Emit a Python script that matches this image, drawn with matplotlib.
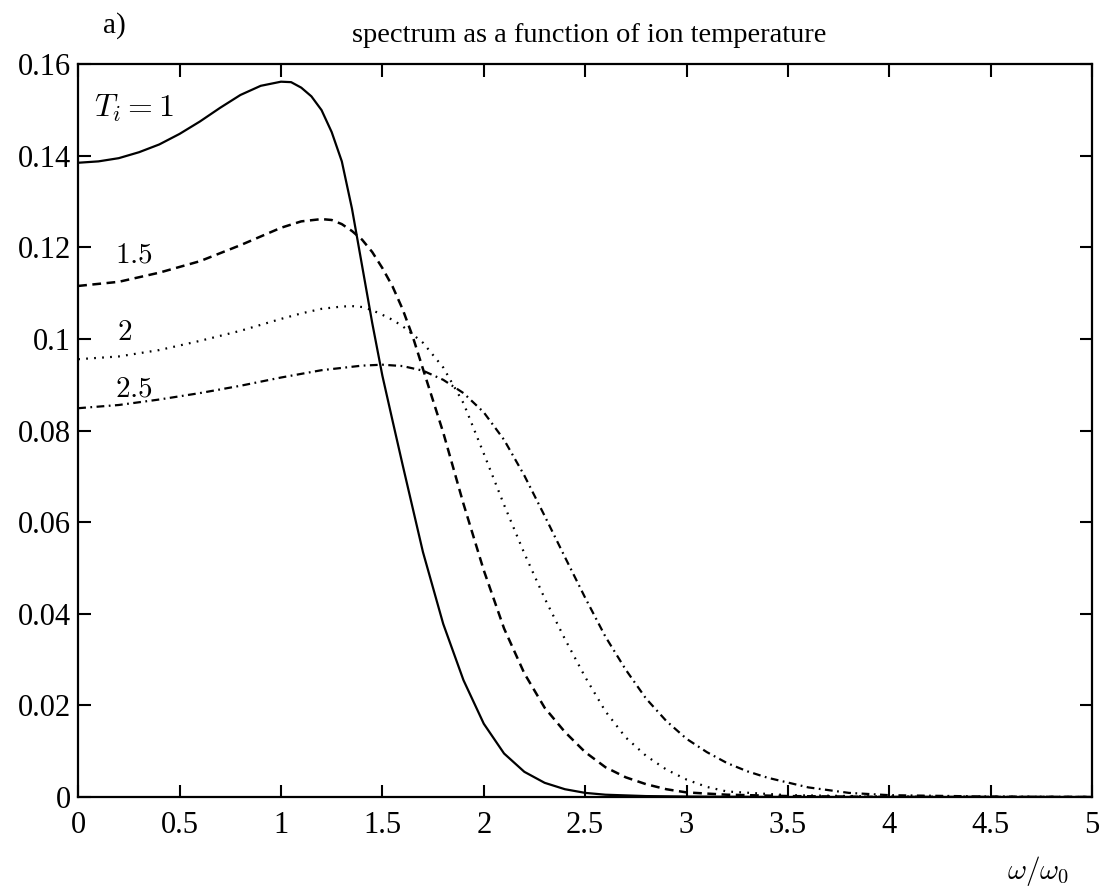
import numpy as np
import matplotlib
matplotlib.use("Agg")
import matplotlib.pyplot as plt
from matplotlib.ticker import FuncFormatter, MultipleLocator

plt.rcParams["font.family"] = ["Liberation Serif", "DejaVu Serif"]
plt.rcParams["mathtext.fontset"] = "cm"

# values
x_t1 = [0, 0.1, 0.2, 0.3, 0.4, 0.5, 0.6, 0.7, 0.8, 0.9, 1.0, 1.05, 1.1, 1.15,
        1.2, 1.25, 1.3, 1.35, 1.4, 1.45, 1.5, 1.55, 1.6, 1.7, 1.8, 1.9, 2.0,
        2.1, 2.2, 2.3, 2.4, 2.5, 2.6, 2.8, 3.0, 3.5, 4.0, 5.0]
y_t1 = [0.1385, 0.1388, 0.1395, 0.1408, 0.1425, 0.1448, 0.1475, 0.1505,
        0.1533, 0.1553, 0.1562, 0.1561, 0.1549, 0.1530, 0.1500, 0.1452,
        0.1388, 0.1285, 0.1160, 0.1035, 0.0920, 0.0822, 0.0725, 0.0535,
        0.0378, 0.0255, 0.0160, 0.0095, 0.0055, 0.0031, 0.0017, 0.0009,
        0.0005, 0.0002, 0.0001, 0.0, 0.0, 0.0]

x_t15 = [0, 0.2, 0.4, 0.6, 0.8, 0.9, 1.0, 1.1, 1.2, 1.25, 1.3, 1.35, 1.4,
         1.45, 1.5, 1.55, 1.6, 1.65, 1.7, 1.8, 1.9, 2.0, 2.1, 2.2, 2.3, 2.4,
         2.5, 2.6, 2.7, 2.8, 2.9, 3.0, 3.2, 3.5, 4.0, 5.0]
y_t15 = [0.1116, 0.1125, 0.1145, 0.1170, 0.1205, 0.1224, 0.1243, 0.1257,
         0.1262, 0.1260, 0.1251, 0.1236, 0.1217, 0.1190, 0.1155, 0.1115,
         0.1065, 0.1005, 0.0935, 0.0796, 0.0640, 0.0495, 0.0368, 0.0270,
         0.0195, 0.0142, 0.0098, 0.0065, 0.0043, 0.0028, 0.0017, 0.0010,
         0.0005, 0.0002, 0.0, 0.0]

x_t2 = [0, 0.2, 0.4, 0.6, 0.8, 1.0, 1.1, 1.2, 1.3, 1.35, 1.4, 1.45, 1.5, 1.55,
        1.6, 1.7, 1.8, 1.9, 2.0, 2.1, 2.2, 2.3, 2.4, 2.5, 2.6, 2.7, 2.8, 2.9,
        3.0, 3.1, 3.2, 3.5, 4.0, 5.0]
y_t2 = [0.0956, 0.0962, 0.0976, 0.0996, 0.1018, 0.1044, 0.1056, 0.1066,
        0.1071, 0.1072, 0.1070, 0.1063, 0.1053, 0.1042, 0.1028, 0.0992,
        0.0938, 0.0860, 0.0750, 0.0638, 0.0532, 0.0434, 0.0345, 0.0262,
        0.0187, 0.0130, 0.0090, 0.0060, 0.0038, 0.0022, 0.0012, 0.0004,
        0.0001, 0.0]

x_t25 = [0, 0.2, 0.4, 0.6, 0.8, 1.0, 1.2, 1.4, 1.5, 1.6, 1.7, 1.8, 1.9, 2.0,
         2.1, 2.2, 2.3, 2.4, 2.5, 2.6, 2.7, 2.8, 2.9, 3.0, 3.1, 3.2, 3.3, 3.4,
         3.6, 3.8, 4.0, 4.5, 5.0]
y_t25 = [0.0849, 0.0856, 0.0868, 0.0882, 0.0898, 0.0916, 0.0932, 0.0942,
         0.0944, 0.0941, 0.0931, 0.0911, 0.0882, 0.0840, 0.0780, 0.0702,
         0.0614, 0.0524, 0.0435, 0.0350, 0.0278, 0.0215, 0.0166, 0.0127,
         0.0098, 0.0074, 0.0056, 0.0042, 0.0021, 0.0009, 0.0004, 0.0001, 0.0]

labels = ["$T_i = 1$", "$1.5$", "$2$", "$2.5$"]
label_pos = [(0.08, 0.1505), (0.18, 0.1182), (0.19, 0.1013), (0.18, 0.0889)]
label_size = [23, 21, 21, 21]

fig = plt.figure(figsize=(11.01, 8.93), dpi=100)
ax = fig.add_axes([0.071, 0.1075, 0.921, 0.8205])

ax.plot(x_t1, y_t1, color="black", lw=1.6, linestyle="-")
ax.plot(x_t15, y_t15, color="black", lw=1.8, linestyle=(0, (3.5, 2.2)))
ax.plot(x_t2, y_t2, color="black", lw=1.6, linestyle=(0, (0.8, 2.8)))
ax.plot(x_t25, y_t25, color="black", lw=1.6,
        linestyle=(0, (3.5, 2.0, 0.8, 2.0)))

for txt, (tx, ty), fs in zip(labels, label_pos, label_size):
    ax.text(tx, ty, txt, fontsize=fs, ha="left", va="center")

ax.set_xlim(0, 5)
ax.set_ylim(0, 0.16)
ax.xaxis.set_major_locator(MultipleLocator(0.5))
ax.yaxis.set_major_locator(MultipleLocator(0.02))
fmt = FuncFormatter(lambda v, p: "%g" % round(v, 4))
ax.xaxis.set_major_formatter(fmt)
ax.yaxis.set_major_formatter(fmt)
ax.tick_params(direction="in", length=9, width=1.5, labelsize=22,
               top=True, right=True)
ax.tick_params(axis="x", pad=10)
ax.tick_params(axis="y", pad=5)
for s in ax.spines.values():
    s.set_linewidth(1.6)

fig.text(589 / 1101, 1 - 35 / 893, "spectrum as a function of ion temperature",
         ha="center", va="center", fontsize=20.5)
fig.text(103 / 1101, 1 - 26 / 893, "a)", ha="left", va="center", fontsize=21)
fig.text(1038 / 1101, 1 - 871 / 893, r"$\omega/\omega_0$",
         ha="center", va="center", fontsize=21)

fig.savefig("out.png", dpi=100)
